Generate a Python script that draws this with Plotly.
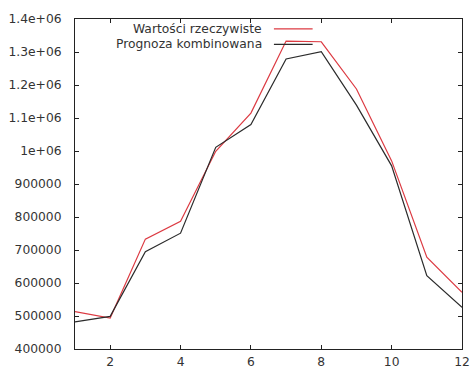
import plotly.graph_objects as go

# Monthly series: actual values vs. combined forecast
months = list(range(1, 13))
actual = [513000, 494000, 733000, 787000, 999000, 1115000,
          1333000, 1331000, 1188000, 970000, 678000, 572000]
forecast = [482000, 499000, 695000, 751000, 1011000, 1080000,
            1279000, 1301000, 1139000, 955000, 622000, 526000]

series_names = ["Wartości rzeczywiste", "Prognoza kombinowana"]
series_colors = ["#dc3a42", "#2b2b2b"]

x_ticks = [2, 4, 6, 8, 10, 12]
y_ticks = [400000, 500000, 600000, 700000, 800000, 900000,
           1000000, 1100000, 1200000, 1300000, 1400000]
y_ticktext = ["400000", "500000", "600000", "700000", "800000", "900000",
              "1e+06", "1.1e+06", "1.2e+06", "1.3e+06", "1.4e+06"]

FONT = dict(family="DejaVu Sans", size=12.3, color="#333")

fig = go.Figure()
for name, vals, col in zip(series_names, [actual, forecast], series_colors):
    fig.add_trace(go.Scatter(x=months, y=vals, mode="lines", name=name,
                             line=dict(color=col, width=1.2)))

axis_common = dict(showgrid=False, zeroline=False, showline=True,
                   linecolor="#222", linewidth=1, mirror="ticks",
                   ticks="inside", ticklen=4, tickcolor="#222",
                   tickfont=FONT, automargin=False)

fig.update_xaxes(range=[1, 12], tickvals=x_ticks, ticklabelstandoff=1,
                 **axis_common)
fig.update_yaxes(range=[400000, 1400000], tickvals=y_ticks,
                 ticktext=y_ticktext, ticklabelstandoff=10, **axis_common)

# Key in the top-right corner: right-aligned labels with line samples after them
legend_rows = [0.970, 0.923]
for name, col, yy in zip(series_names, series_colors, legend_rows):
    fig.add_annotation(xref="paper", yref="paper", x=0.489, y=yy,
                       text=name, showarrow=False, xanchor="right",
                       yanchor="middle", font=FONT)
    fig.add_shape(type="line", xref="paper", yref="paper",
                  x0=0.514, x1=0.614, y0=yy, y1=yy,
                  line=dict(color=col, width=1.2))

fig.update_layout(width=471, height=369, showlegend=False,
                  margin=dict(l=75, r=9, t=19, b=20),
                  paper_bgcolor="white", plot_bgcolor="white")

fig.write_html("out.html")
